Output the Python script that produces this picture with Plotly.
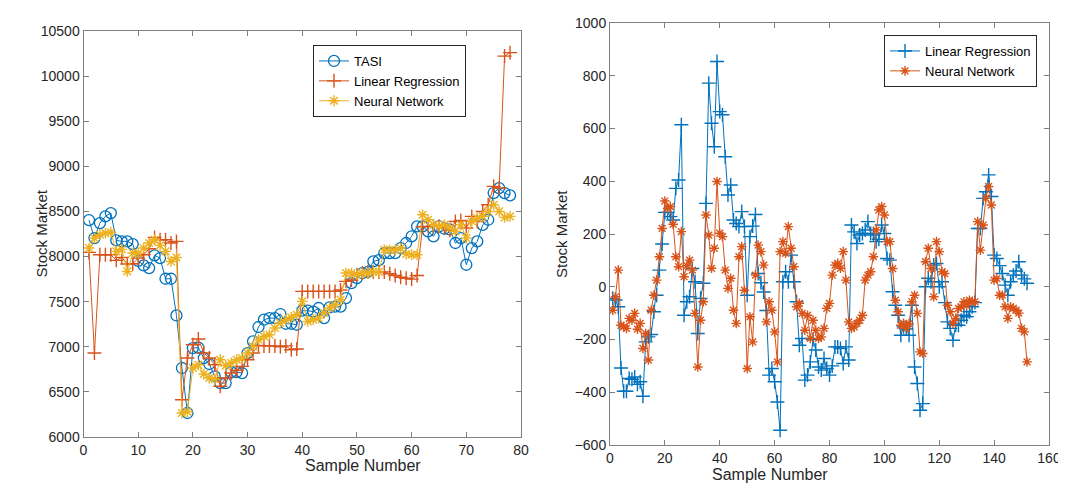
import plotly.graph_objects as go

# ---------------- Left panel data ----------------
tasi = [8404, 8205, 8371, 8445, 8482, 8179, 8168, 8168, 8138, 7953,
        7902, 7872, 8013, 7983, 7754, 7754, 7347, 6765, 6266, 6986,
        6990, 6875, 6809, 6672, 6598, 6598, 6720, 6720, 6709, 6930,
        7060, 7219, 7300, 7318, 7318, 7363, 7255, 7255, 7244, 7400,
        7400, 7390, 7430, 7318, 7437, 7445, 7445, 7540, 7706, 7762,
        7817, 7830, 7947, 7960, 8039, 8039, 8039, 8094, 8150, 8224,
        8335, 8335, 8279, 8224, 8335, 8308, 8300, 8150, 8205, 7909,
        8094, 8168, 8352, 8408, 8704, 8759, 8704, 8678]
lr_left = [8046, 6931, 8020, 8020, 8020, 7958, 7991, 7917, 7920, 7983,
           8020, 8086, 8212, 8186, 8186, 8150, 8168, 6413, 6875, 7023,
           7086, 6931, 6875, 6801, 6562, 6654, 6710, 6740, 6783, 6856,
           6931, 7016, 7010, 7010, 7010, 7000, 7010, 6967, 6975, 7614,
           7614, 7614, 7614, 7614, 7614, 7614, 7630, 7725, 7740, 7798,
           7817, 7830, 7830, 7830, 7830, 7810, 7790, 7770, 7760, 7750,
           7790, 8330, 8335, 8335, 8335, 8320, 8290, 8389, 8400, 8316,
           8445, 8389, 8500, 8574, 8778, 8760, 10222, 10260]
nn_left = [8094, 8205, 8242, 8260, 8270, 8057, 8080, 7835, 8039, 8039,
           8094, 8150, 8186, 8124, 8057, 7946, 7990, 6266, 6280, 6765,
           6800, 6698, 6654, 6640, 6856, 6790, 6820, 6856, 6875, 6931,
           7005, 7078, 7115, 7134, 7208, 7263, 7300, 7326, 7355, 7503,
           7281, 7300, 7318, 7374, 7430, 7466, 7521, 7817, 7817, 7800,
           7817, 7817, 7830, 7830, 8075, 8075, 8070, 8094, 8028, 8020,
           8020, 8463, 8408, 8352, 8335, 8352, 8316, 8279, 8352, 8205,
           8389, 8426, 8445, 8500, 8574, 8500, 8434, 8445]

# ---------------- Right panel data (errors) ----------------
lr_err = [-44, -50, -76, -308, -396, -396, -348, -351, -342, -370,
          -360, -415, -209, -190, -181, -95, -32, 63, 162, 282,
          282, 266, 253, 373, 405, 614, -108, -57, -38, 69,
          19, -177, -44, 13, 316, 772, 620, 531, 854, 664,
          652, 493, 348, 386, 253, 240, 228, 285, 228, -32,
          190, 230, 274, 50, 15, -20, -90, -335, -310, -360,
          -437, -544, 19, 57, 19, 120, 19, -57, -222, -196,
          -354, -335, -285, -200, -240, -304, -316, -272, -310, -335,
          -300, -228, -228, -234, -291, -228, -278, 234, 208, 164,
          196, 202, 215, 247, 202, 196, 171, 180, 234, 202,
          107, 101, -19, -70, -108, -184, -152, -160, -184, -70,
          -304, -367, -468, -443, 0, 32, 19, 82, 88, 0,
          19, -60, -133, -158, -203, -146, -146, -127, -108, -114,
          -95, -76, -60, 221, 221, 335, 360, 424, 342, 120,
          107, 80, 50, 6, -32, 19, 44, 60, 95, 44,
          30, 13]
nn_err = [-89, -38, 63, -146, -152, -158, -120, -127, -101, -161,
          -139, -234, -177, -278, -89, -32, 25, 114, 221, 325,
          297, 304, 237, 114, 76, 209, 38, 80, 101, 63,
          -101, -304, -127, -57, 272, 196, 70, 146, 399, 203,
          190, 63, -6, 32, -89, -139, 114, 152, -13, -310,
          -114, -209, 44, 158, 133, 82, -133, -57, -89, -171,
          -285, 133, 171, 127, 228, 146, 76, -76, -63, -101,
          -165, -108, -196, -127, -165, -196, -190, -158, -82, -63,
          44, 82, 89, 70, 133, 25, -133, -158, -152, -139,
          -127, -108, 25, 44, 57, 114, 215, 291, 304, 272,
          171, 171, 69, -51, -95, -146, -139, -158, -140, -57,
          -32, -101, -247, -253, 95, 146, 69, -38, 171, 133,
          57, 50, -70, -95, -139, -120, -82, -76, -57, -70,
          -51, -57, -57, 247, 139, 234, 335, 380, 310, 25,
          31, -32, -32, -76, -120, -76, -82, -89, -100, -158,
          -171, -285]

left_xticks = list(range(0, 81, 10))
left_yticks = list(range(6000, 10501, 500))
right_xticks = list(range(0, 161, 20))
right_yticks = list(range(-600, 1001, 200))

BLUE = "#0072BD"
ORANGE = "#D95319"
YELLOW = "#EDB120"
FONT = "Liberation Sans, Arial, sans-serif"

def xs(vals):
    return list(range(1, len(vals) + 1))

fig = go.Figure()

fig.add_trace(go.Scatter(
    x=xs(tasi), y=tasi, name="TASI", mode="lines+markers",
    line=dict(color=BLUE, width=1),
    marker=dict(symbol="circle-open", size=11, color=BLUE, line=dict(width=1.3, color=BLUE)),
    xaxis="x", yaxis="y", legend="legend"))
fig.add_trace(go.Scatter(
    x=xs(lr_left), y=lr_left, name="Linear Regression", mode="lines+markers",
    line=dict(color=ORANGE, width=1),
    marker=dict(symbol="cross-thin-open", size=10, color=ORANGE, line=dict(width=1.4, color=ORANGE)),
    xaxis="x", yaxis="y", legend="legend"))
fig.add_trace(go.Scatter(
    x=xs(nn_left), y=nn_left, name="Neural Network", mode="lines+markers",
    line=dict(color=YELLOW, width=1),
    marker=dict(symbol="asterisk-open", size=9, color=YELLOW, line=dict(width=1.4, color=YELLOW)),
    xaxis="x", yaxis="y", legend="legend"))

fig.add_trace(go.Scatter(
    x=xs(lr_err), y=lr_err, name="Linear Regression", mode="lines+markers",
    line=dict(color=BLUE, width=1),
    marker=dict(symbol="cross-thin-open", size=10, color=BLUE, line=dict(width=1.4, color=BLUE)),
    xaxis="x2", yaxis="y2", legend="legend2"))
fig.add_trace(go.Scatter(
    x=xs(nn_err), y=nn_err, name="Neural Network", mode="lines+markers",
    line=dict(color=ORANGE, width=1),
    marker=dict(symbol="asterisk-open", size=8, color=ORANGE, line=dict(width=1.4, color=ORANGE)),
    xaxis="x2", yaxis="y2", legend="legend2"))

axis_common = dict(
    showline=True, linecolor="#7f7f7f", linewidth=1, mirror="ticks",
    ticks="inside", ticklen=5, tickcolor="#7f7f7f", showgrid=False, zeroline=False,
    tickformat="d",
    tickfont=dict(family=FONT, size=14, color="#262626"), automargin=False,
)

W, H = 1066, 485
def px_x(p): return p / W
def px_y(p): return 1 - p / H

fig.update_layout(
    width=W, height=H,
    margin=dict(l=0, r=0, t=0, b=0),
    paper_bgcolor="white", plot_bgcolor="white",
    font=dict(family=FONT, color="#262626"),
    xaxis=dict(domain=[px_x(75.5), px_x(513)], range=[0, 80], tickvals=left_xticks,
               anchor="y", **axis_common),
    yaxis=dict(domain=[px_y(429), px_y(23)], range=[6000, 10500], tickvals=left_yticks,
               anchor="x", **axis_common),
    xaxis2=dict(domain=[px_x(602), px_x(1041)], range=[0, 160], tickvals=right_xticks,
                anchor="y2", **axis_common),
    yaxis2=dict(domain=[px_y(437), px_y(15)], range=[-600, 1000], tickvals=right_yticks,
                anchor="x2", **axis_common),
    legend=dict(x=px_x(305), y=px_y(37), xanchor="left", yanchor="top",
                bgcolor="white", bordercolor="#262626", borderwidth=1, itemwidth=30,
                font=dict(family=FONT, size=13, color="#000"), tracegroupgap=0),
    legend2=dict(x=px_x(876), y=px_y(27), xanchor="left", yanchor="top",
                 bgcolor="white", bordercolor="#262626", borderwidth=1, itemwidth=30,
                 font=dict(family=FONT, size=13, color="#000"), tracegroupgap=0),
    showlegend=True,
    annotations=[
        dict(text="Stock Market", x=px_x(22), y=px_y(226), xref="paper", yref="paper",
             textangle=-90, showarrow=False, font=dict(family=FONT, size=15, color="#262626")),
        dict(text="Sample Number", x=px_x(295), y=px_y(468), xref="paper", yref="paper",
             showarrow=False, font=dict(family=FONT, size=16, color="#262626")),
        dict(text="Stock Market", x=px_x(553), y=px_y(226), xref="paper", yref="paper",
             textangle=-90, showarrow=False, font=dict(family=FONT, size=15, color="#262626")),
        dict(text="Sample Number", x=px_x(822), y=px_y(477), xref="paper", yref="paper",
             showarrow=False, font=dict(family=FONT, size=16, color="#262626")),
    ],
)

fig.write_html("out.html")
